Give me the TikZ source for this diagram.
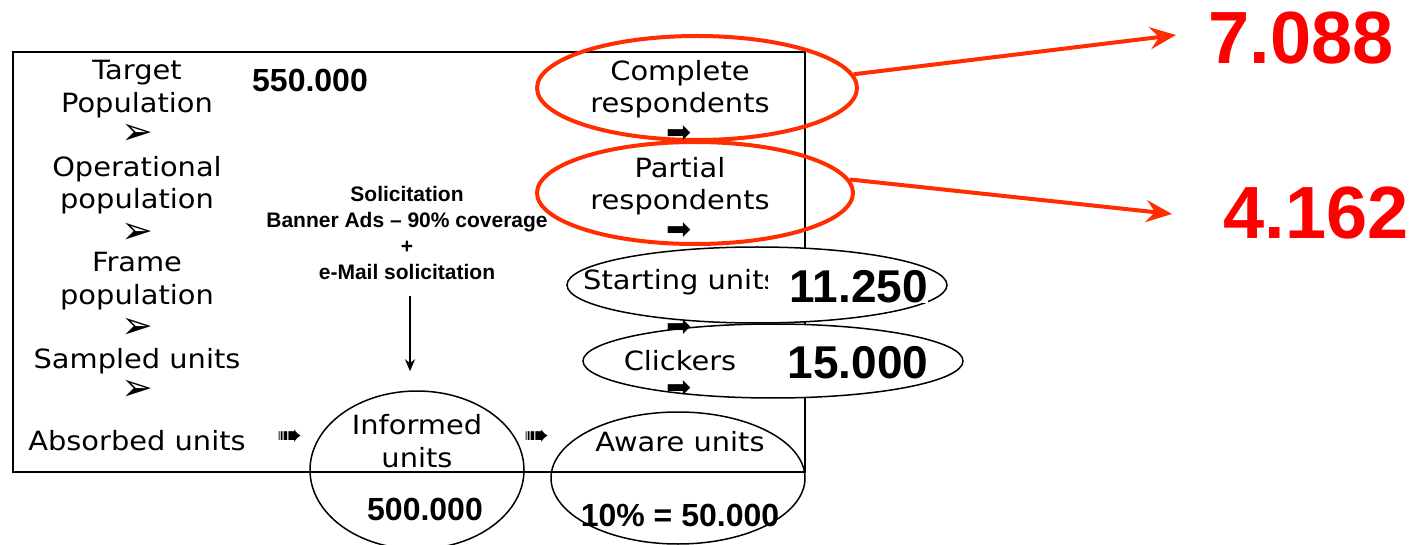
\documentclass[tikz,border=0pt]{standalone}
\usepackage{fontspec}
\setmainfont{DejaVu Sans}[FakeStretch=1.09]
\newfontfamily\arialb{Liberation Sans}[UprightFont=*-Bold]
\newfontfamily\glyphs{DejaVu Sans}
\usetikzlibrary{shapes.geometric,arrows.meta}
\definecolor{redline}{RGB}{255,45,0}
\definecolor{rednum}{RGB}{255,0,0}
\tikzset{
  lbl/.style={font=\fontsize{26.5}{32.5}\selectfont, align=center, inner sep=0pt},
  num/.style={font=\arialb\fontsize{32}{36}\selectfont, inner sep=0pt},
  bignum/.style={font=\arialb\fontsize{46}{50}\selectfont, inner sep=0pt},
  rednum/.style={font=\arialb\fontsize{74}{80}\selectfont, text=rednum, inner sep=0pt},
  soltext/.style={font=\arialb\fontsize{21}{25.7}\selectfont, align=center, inner sep=0pt},
  tipa/.style={font=\glyphs\fontsize{38}{38}\selectfont, inner sep=0pt, text height=20pt, text depth=-8pt},
  tipb/.style={font=\glyphs\fontsize{30}{30}\selectfont, inner sep=0pt, text height=15pt, text depth=-6pt},
  blkell/.style={ellipse, draw=black, line width=1.5pt, inner sep=0pt},
  redell/.style={ellipse, draw=redline, line width=4pt, inner sep=0pt},
  redarrow/.style={draw=redline, line width=4pt, -{Stealth[length=26pt,width=22pt,inset=9pt]}},
}
\begin{document}
\begin{tikzpicture}[x=1pt,y=-1pt]
\useasboundingbox (0,0) rectangle (1414,545);
% frame
\node[draw=black, line width=2pt, minimum width=792pt, minimum height=420pt, inner sep=0pt] (frame) at (409,262) {};
% left column
\node[lbl] (tp) at (137,89) {Target\\Population};
\node[tipa] (a1) at (137,135) {➢};
\node[lbl] (op) at (137,185) {Operational\\population};
\node[tipa] (a2) at (137,234) {➢};
\node[lbl] (fp) at (137,281) {Frame\\population};
\node[tipa] (a3) at (137,329) {➢};
\node[lbl] (su) at (137,361) {Sampled units};
\node[tipa] (a4) at (137,390) {➢};
\node[lbl] (ab) at (137,441) {Absorbed units};
\node[tipb] (a5) at (290,438) {➠};
\node[num] (n550) at (310,80) {550.000};
% solicitation
\node[soltext] (sol) at (407,233) {Solicitation\\Banner Ads – 90\% coverage\\+\\e-Mail solicitation};
% informed units
\node[blkell, minimum width=214pt, minimum height=158pt] (inf) at (417,470) {};
\node[lbl] (inft) at (417,441) {Informed\\units};
\node[num] (n500) at (425,509) {500.000};
\node[tipb] (a6) at (537,438) {➠};
% aware units
\node[blkell, minimum width=254pt, minimum height=132pt] (aw) at (678,478) {};
\node[lbl] (awt) at (680,442) {Aware units};
\node[num] (n10) at (680,515) {10\% = 50.000};
% starting units
\node[blkell, fill=white, minimum width=380pt, minimum height=76pt] (st) at (757,285) {};
\node[lbl, anchor=west] (stt) at (583,282) {Starting units};
\node[bignum, fill=white, anchor=east] (n11) at (928,287) {\hspace*{22pt}11.250};
% clickers
\node[blkell, fill=white, minimum width=380pt, minimum height=74pt] (cl) at (773,361) {};
\node[lbl] (clt) at (680,361) {Clickers};
\node[bignum] (n15) at (858,363) {15.000};
% respondents
\node[redell, minimum width=320pt, minimum height=104pt] (cr) at (697,88) {};
\node[lbl] (crt) at (680,89) {Complete\\respondents};
\node[redell, minimum width=316pt, minimum height=102pt] (pr) at (695,193) {};
\node[lbl] (prt) at (680,186) {Partial\\respondents};
% small arrows
\node[tipb] (a7) at (679,135) {➡};
\node[tipb] (a8) at (679,232) {➡};
\node[tipb] (a9) at (679,329) {➡};
\node[tipb] (a10) at (679,390) {➡};
% red numbers
\node[rednum] (n7088) at (1301,38) {7.088};
\node[rednum] (n4162) at (1316,213) {4.162};
\coordinate (e1) at (1176,35);
\coordinate (e2) at (1172,214);
\draw[redarrow] (cr.5) -- (e1);
\draw[redarrow] (pr.5) -- (e2);
% solicitation arrow
\draw[line width=2pt, -{Stealth[length=12pt,width=10pt]}, shorten <=17pt, shorten >=19pt] ([xshift=3pt]sol.south) -- ([xshift=3pt]sol.south |- inf.north);
\end{tikzpicture}
\end{document}
